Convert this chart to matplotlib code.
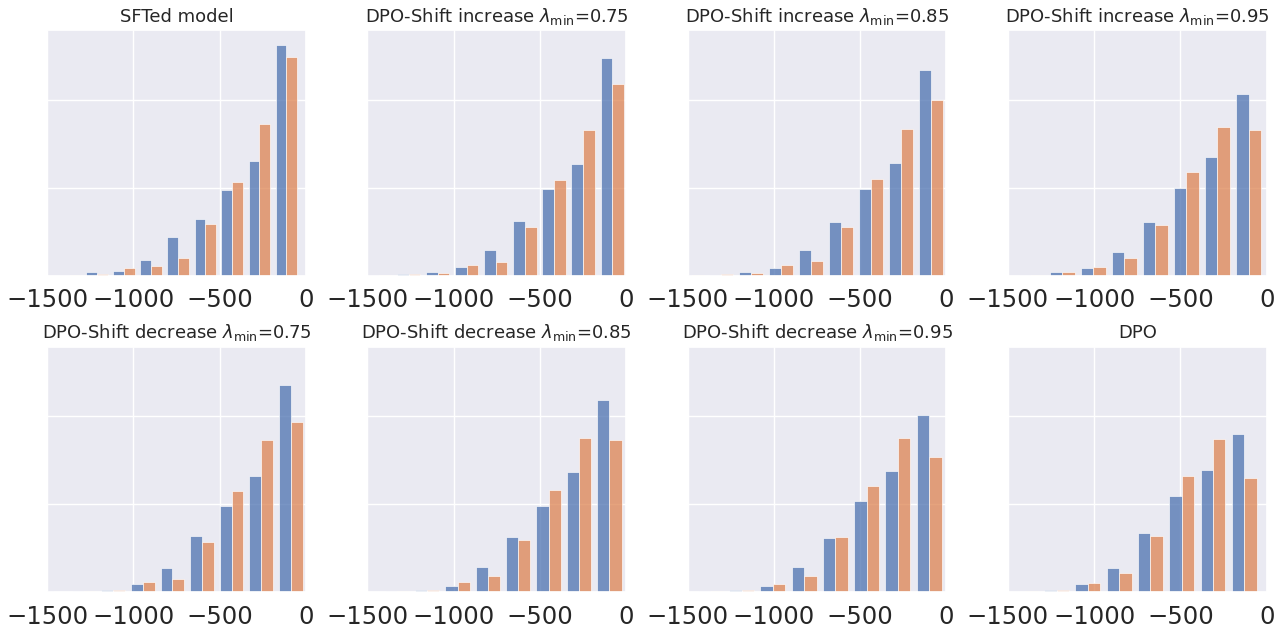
"""
Histograms of log-probabilities, chosen vs rejected, for each model
"""
import numpy as np
import matplotlib
matplotlib.use('Agg')
import matplotlib.pyplot as plt
import seaborn as sns

sns.set_theme(style='darkgrid')

titles = ['SFTed model',
          r'DPO-Shift increase $\lambda_{\min}$=0.75',
          r'DPO-Shift increase $\lambda_{\min}$=0.85',
          r'DPO-Shift increase $\lambda_{\min}$=0.95',
          r'DPO-Shift decrease $\lambda_{\min}$=0.75',
          r'DPO-Shift decrease $\lambda_{\min}$=0.85',
          r'DPO-Shift decrease $\lambda_{\min}$=0.95',
          'DPO']

# bin centres and bin widths
bin_centers = [
    [-1366, -1209, -1052, -896, -739, -582, -426, -269, -112],
    [-1430, -1261, -1092, -924, -755, -586, -417, -249, -80],
    [-1477, -1304, -1130, -956, -782, -608, -435, -261, -87],
    [-1365, -1185, -1005, -825, -645, -465, -285, -105],
    [-1459, -1288, -1116, -945, -773, -602, -430, -259, -87],
    [-1329, -1153, -977, -801, -625, -449, -273, -97],
    [-1367, -1186, -1005, -824, -643, -462, -281, -100],
    [-1399, -1218, -1036, -855, -674, -492, -311, -130],
]
bin_widths = [157, 169, 174, 180, 171.5, 176, 181, 181]

# heights of the blue (first) series
blue = [
    [0.006, 0.040, 0.057, 0.174, 0.442, 0.645, 0.974, 1.298, 2.623],
    [0.010, 0.015, 0.045, 0.094, 0.294, 0.626, 0.985, 1.272, 2.470],
    [0.010, 0.012, 0.040, 0.083, 0.287, 0.611, 0.981, 1.279, 2.340],
    [0.006, 0.040, 0.083, 0.272, 0.608, 1.000, 1.347, 2.068],
    [0.012, 0.012, 0.032, 0.091, 0.278, 0.635, 0.977, 1.319, 2.354],
    [0.012, 0.032, 0.076, 0.289, 0.624, 0.981, 1.369, 2.179],
    [0.012, 0.032, 0.072, 0.285, 0.612, 1.042, 1.376, 2.011],
    [0.006, 0.032, 0.091, 0.281, 0.669, 1.091, 1.388, 1.795],
]
# heights of the orange (second) series
orange = [
    [0.004, 0.014, 0.083, 0.106, 0.204, 0.585, 1.060, 1.728, 2.479],
    [0.004, 0.014, 0.028, 0.121, 0.158, 0.558, 1.087, 1.657, 2.181],
    [0.004, 0.018, 0.028, 0.117, 0.162, 0.558, 1.098, 1.668, 1.992],
    [0.010, 0.036, 0.102, 0.196, 0.577, 1.177, 1.687, 1.653],
    [0.004, 0.012, 0.029, 0.118, 0.156, 0.570, 1.148, 1.734, 1.939],
    [0.014, 0.029, 0.114, 0.183, 0.593, 1.160, 1.757, 1.730],
    [0.014, 0.026, 0.099, 0.190, 0.627, 1.205, 1.753, 1.536],
    [0.014, 0.032, 0.103, 0.224, 0.639, 1.319, 1.741, 1.293],
]

x_ticks = [-1500, -1000, -500, 0]
c_blue = sns.color_palette('deep')[0]
c_orange = sns.color_palette('deep')[1]

fig, axes = plt.subplots(2, 4, figsize=(12.84, 6.3), dpi=100)
fig.subplots_adjust(left=0.0366, right=0.9865, top=0.9524, bottom=0.0598,
                    wspace=0.2375, hspace=0.289)

for i, ax in enumerate(axes.flat):
    x = np.array(bin_centers[i])
    w = bin_widths[i]
    ax.bar(x - 0.2 * w, blue[i], width=0.4 * w, color=c_blue, alpha=0.75,
           edgecolor='white', linewidth=0.6)
    ax.bar(x + 0.2 * w, orange[i], width=0.4 * w, color=c_orange, alpha=0.75,
           edgecolor='white', linewidth=0.6)
    ax.set_xlim(-1500, 0)
    ax.set_ylim(0, 2.79)
    ax.set_xticks(x_ticks)
    ax.set_yticks([0, 1, 2])
    ax.set_yticklabels([])
    ax.tick_params(axis='x', labelsize=17.5, pad=3)
    ax.set_title(titles[i], fontsize=13)

plt.savefig('out.png')
